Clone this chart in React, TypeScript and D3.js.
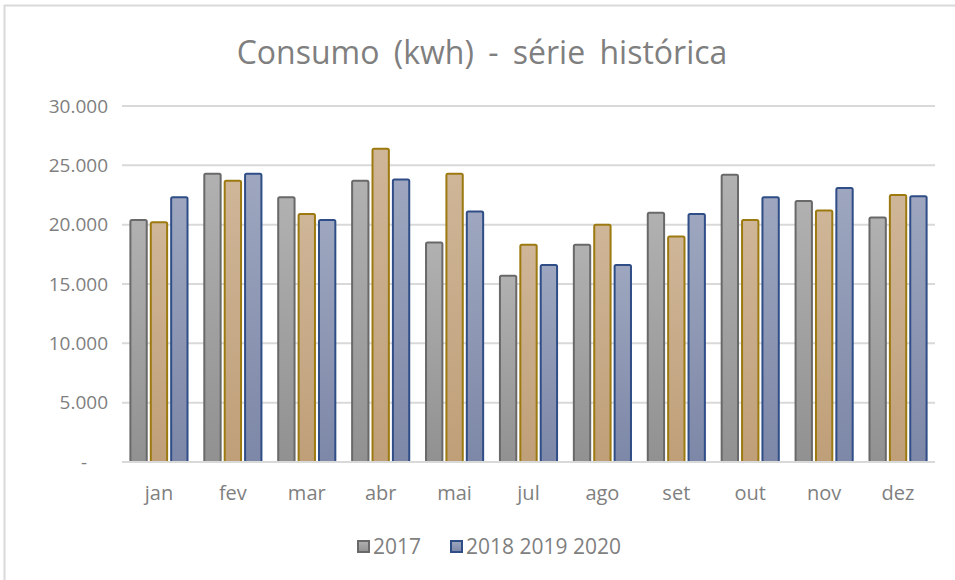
import React from "react";
import * as d3 from "d3";

const months = ["jan", "fev", "mar", "abr", "mai", "jul", "ago", "set", "out", "nov", "dez"];
const series2017 = [20400, 24300, 22300, 23700, 18500, 15700, 18300, 21000, 24200, 22000, 20600];
const seriesB = [20200, 23700, 20900, 26400, 24300, 18300, 20000, 19000, 20400, 21200, 22500];
const seriesC = [22300, 24300, 20400, 23800, 21100, 16600, 16600, 20900, 22300, 23100, 22400];
const seriesKeys = ["s2017", "sB", "sC"];
const yTicks = [0, 5000, 10000, 15000, 20000, 25000, 30000];
const legendLabels = ["2017", "2018 2019 2020"];
const title = "Consumo (kwh) - série histórica";

const W = 955;
const H = 580;
const left = 122;
const right = 935;
const top = 106;
const bottom = 462;

const styles: Record<string, { top: string; bot: string; stroke: string }> = {
  s2017: { top: "#b1b1b1", bot: "#919191", stroke: "#696969" },
  sB: { top: "#cfb698", bot: "#bf9f78", stroke: "#9c7a10" },
  sC: { top: "#9ea7bf", bot: "#7d87a7", stroke: "#2f4d86" },
};

const fmt = (v: number) => d3.format(",")(v).replace(/,/g, ".");

export default function App() {
  const x = d3.scaleBand<string>().domain(months).range([left, right]).paddingInner(0.2).paddingOuter(0.1);
  const xi = d3.scaleBand<string>().domain(seriesKeys).range([0, x.bandwidth()]).paddingInner(0.1);
  const y = d3.scaleLinear().domain([0, 30000]).range([bottom, top]);
  const data: Record<string, number[]> = { s2017: series2017, sB: seriesB, sC: seriesC };
  const textColor = "#7f7f7f";
  const font = "'Open Sans', 'Noto Sans', sans-serif";

  return (
    <svg width={W} height={H} style={{ position: "absolute", left: 0, top: 0, background: "#fff" }} fontFamily={font}>
      <defs>
        {seriesKeys.map((k) => (
          <linearGradient key={k} id={`g-${k}`} x1="0" y1="0" x2="0" y2="1">
            <stop offset="0" stopColor={styles[k].top} />
            <stop offset="1" stopColor={styles[k].bot} />
          </linearGradient>
        ))}
      </defs>
      <rect x={0} y={0} width={W} height={H} fill="#fff" />
      <line x1={4.5} x2={4.5} y1={5} y2={H} stroke="#d9d9d9" strokeWidth={2} />
      <line x1={4} x2={W} y1={5.5} y2={5.5} stroke="#d9d9d9" strokeWidth={2} />
      <text x={482} y={64} textAnchor="middle" fontSize={32} fill={textColor} wordSpacing={6}>
        {title}
      </text>
      {yTicks.map((t) => (
        <g key={t}>
          {t > 0 && <line x1={left} x2={right} y1={y(t)} y2={y(t)} stroke="#d9d9d9" strokeWidth={2} />}
          {t > 0 ? (
            <text x={108} y={y(t)} dy="0.35em" textAnchor="end" fontSize={19} fill={textColor}>
              {fmt(t)}
            </text>
          ) : (
            <text x={84} y={y(t)} dy="0.35em" textAnchor="middle" fontSize={19} fill={textColor}>
              -
            </text>
          )}
        </g>
      ))}
      {months.map((m, i) => (
        <g key={m} transform={`translate(${x(m)},0)`}>
          {seriesKeys.map((k) => {
            const v = data[k][i];
            return (
              <rect
                key={k}
                x={(xi(k) as number) + 1}
                y={y(v)}
                width={xi.bandwidth() - 2}
                height={bottom - y(v)}
                fill={`url(#g-${k})`}
                stroke={styles[k].stroke}
                strokeWidth={2}
                rx={1.5}
              />
            );
          })}
          <text x={x.bandwidth() / 2} y={500} textAnchor="middle" fontSize={20} fill={textColor}>
            {m}
          </text>
        </g>
      ))}
      <line x1={left} x2={right} y1={bottom} y2={bottom} stroke="#d9d9d9" strokeWidth={2} />
      {[
        { k: "s2017", x: 357, label: legendLabels[0] },
        { k: "sC", x: 450, label: legendLabels[1] },
      ].map((l) => (
        <g key={l.k}>
          <rect x={l.x + 1} y={541} width={11} height={11} fill={`url(#g-${l.k})`} stroke={styles[l.k].stroke} strokeWidth={2} />
          <text x={l.x + 16} y={554} fontSize={21} fill={textColor}>
            {l.label}
          </text>
        </g>
      ))}
    </svg>
  );
}
